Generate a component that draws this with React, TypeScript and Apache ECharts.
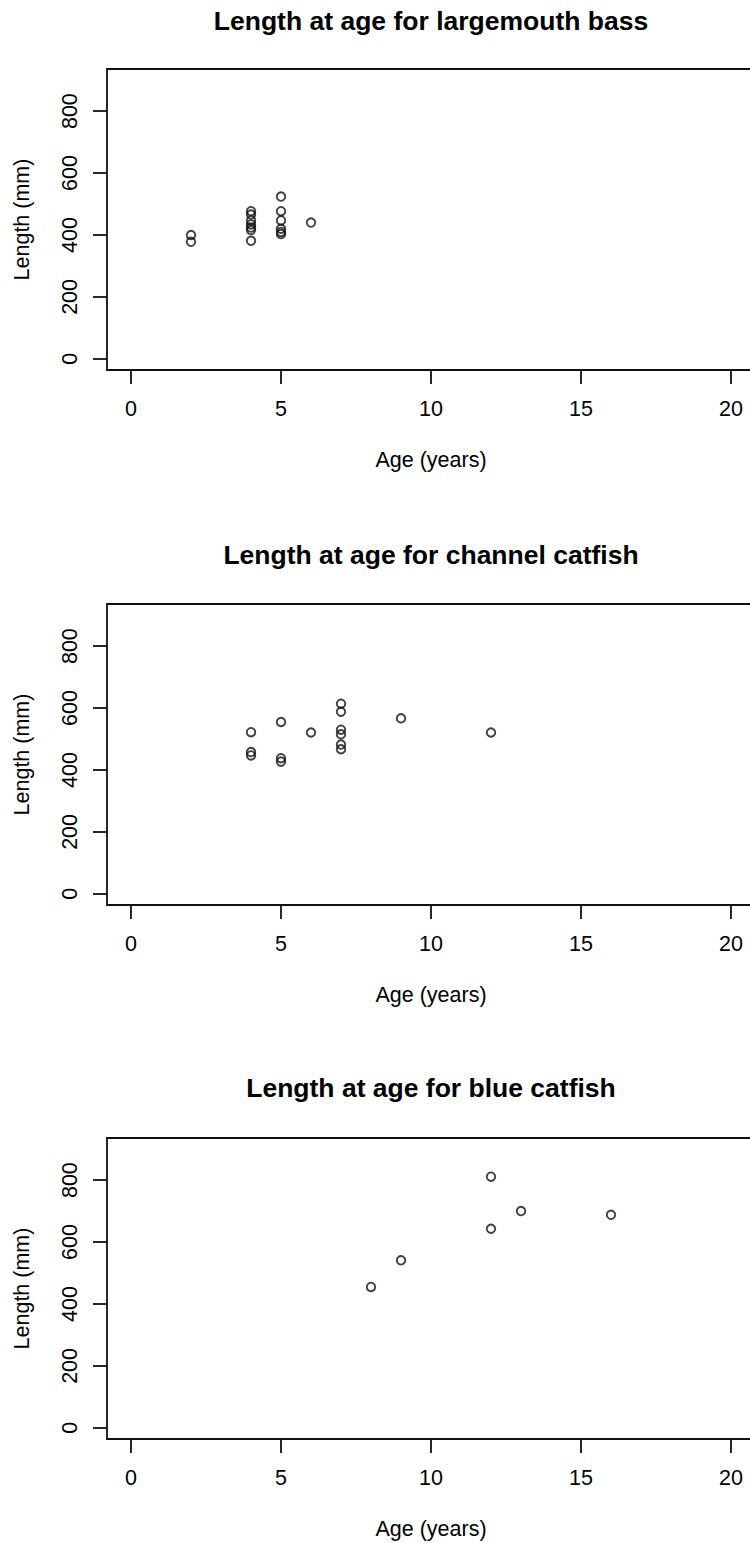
import React, { useEffect, useRef } from "react";
import * as echarts from "echarts";

// Tick positions shared by the three panels
const ageTicks = [0, 5, 10, 15, 20];
const lengthTicks = [0, 200, 400, 600, 800];

// Largemouth bass: age (years) and total length (mm)
const bassAge = [2, 2, 4, 4, 4, 4, 4, 4, 4, 5, 5, 5, 5, 5, 5, 6];
const bassLength = [400, 378, 477, 466, 447, 434, 424, 416, 381, 524, 477, 447, 420, 410, 403, 440];

// Channel catfish
const channelAge = [4, 4, 4, 5, 5, 5, 6, 7, 7, 7, 7, 7, 7, 9, 12];
const channelLength = [522, 458, 447, 555, 438, 427, 521, 614, 588, 530, 515, 482, 467, 567, 521];

// Blue catfish
const blueAge = [8, 9, 12, 12, 13, 16];
const blueLength = [455, 541, 811, 643, 700, 688];

const panels = [
  { title: "Length at age for largemouth bass", age: bassAge, length: bassLength },
  { title: "Length at age for channel catfish", age: channelAge, length: channelLength },
  { title: "Length at age for blue catfish", age: blueAge, length: blueLength },
];

const FONT = "'Liberation Sans', Arial, sans-serif";
// The plotting region runs a little past the visible right edge, so the
// chart canvas is wider than the clipping wrapper.
const CANVAS_WIDTH = 770;
const GRID_LEFT = 107;
const GRID_WIDTH = 648;
const GRID_HEIGHT = 301;
const gridTops = [69, 604, 1138];
const titleTops = [7, 541, 1074];
const PLOT_CENTER = GRID_LEFT + GRID_WIDTH / 2;

export default function App() {
  const ref = useRef<HTMLDivElement>(null);

  useEffect(() => {
    if (!ref.current) return;
    const chart = echarts.init(ref.current, undefined, { renderer: "svg" });
    const axisText = { fontFamily: FONT, fontSize: 21.5, color: "#000" };
    const tickLine = { color: "#111", width: 1.8 };

    chart.setOption({
      animation: false,
      backgroundColor: "#fff",
      title: panels.map((p, i) => ({
        text: p.title,
        left: PLOT_CENTER,
        top: titleTops[i],
        textAlign: "center",
        padding: 0,
        textStyle: { fontFamily: FONT, fontSize: 26.5, fontWeight: "bold", color: "#000" },
      })),
      grid: panels.map((_, i) => ({
        left: GRID_LEFT,
        top: gridTops[i],
        width: GRID_WIDTH,
        height: GRID_HEIGHT,
        show: true,
        borderColor: "#111",
        borderWidth: 1.8,
        backgroundColor: "transparent",
      })),
      xAxis: panels.map((_, i) => ({
        gridIndex: i,
        type: "value",
        min: -0.8,
        max: 20.8,
        name: "Age (years)",
        nameLocation: "middle",
        nameGap: 79,
        nameTextStyle: axisText,
        axisLine: { show: false, onZero: false },
        axisTick: { show: true, customValues: ageTicks, length: 14, lineStyle: tickLine },
        axisLabel: { customValues: ageTicks, margin: 28, ...axisText },
        splitLine: { show: false },
      })),
      yAxis: panels.map((_, i) => ({
        gridIndex: i,
        type: "value",
        min: -36,
        max: 936,
        name: "Length (mm)",
        nameLocation: "middle",
        nameGap: 74,
        nameRotate: 90,
        nameTextStyle: axisText,
        axisLine: { show: false, onZero: false },
        axisTick: { show: true, customValues: lengthTicks, length: 14, lineStyle: tickLine },
        axisLabel: { customValues: lengthTicks, rotate: 90, margin: 26, ...axisText },
        splitLine: { show: false },
      })),
      series: panels.map((p, i) => ({
        type: "scatter",
        name: p.title,
        xAxisIndex: i,
        yAxisIndex: i,
        symbol: "circle",
        symbolSize: 8.5,
        itemStyle: { color: "rgba(0,0,0,0)", borderColor: "#111", borderWidth: 1.9 },
        data: p.age.map((a, j) => [a, p.length[j]]),
      })),
    });

    return () => chart.dispose();
  }, []);

  return (
    <div
      style={{ position: "absolute", left: 0, top: 0, width: 750, height: 1543, overflow: "hidden" }}
    >
      <div ref={ref} style={{ width: CANVAS_WIDTH, height: 1543 }} />
    </div>
  );
}
